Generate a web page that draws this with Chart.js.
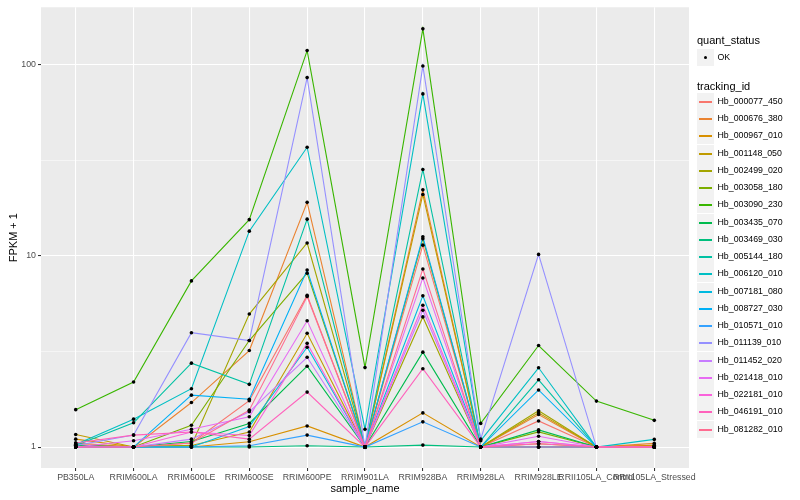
<!DOCTYPE html>
<html>
<head>
<meta charset="utf-8">
<script src="https://cdn.jsdelivr.net/npm/chart.js@4"></script>
<style>
  html, body { margin: 0; padding: 0; background: #ffffff; }
  #wrap { position: relative; width: 800px; height: 500px; overflow: hidden; font-family: "Liberation Sans", Arial, sans-serif; }
  #c { position: absolute; left: 0; top: 0; }
  .lg { position: absolute; white-space: nowrap; color: #000; }
  .ttl { font-size: 11px; line-height: 14px; }
  .key { position: absolute; width: 17px; height: 17px; background: #F2F2F2; }
  .key .ln { position: absolute; left: 2px; right: 2px; top: 8px; height: 1.5px; }
  .key .pt { position: absolute; left: 6.8px; top: 6.8px; width: 3.6px; height: 3.6px; border-radius: 50%; background: #000; }
  .lab { position: absolute; font-size: 8.8px; line-height: 17px; color: #000; }
</style>
</head>
<body>
<div id="wrap">
  <canvas id="c" width="800" height="500"></canvas>
  <div id="legend"></div>
</div>
<script>
const categories = ["PB350LA", "RRIM600LA", "RRIM600LE", "RRIM600SE", "RRIM600PE", "RRIM901LA",
  "RRIM928BA", "RRIM928LA", "RRIM928LE", "RRII105LA_Control", "RRII105LA_Stressed"];

const trackingIds = ["Hb_000077_450", "Hb_000676_380", "Hb_000967_010", "Hb_001148_050", "Hb_002499_020",
  "Hb_003058_180", "Hb_003090_230", "Hb_003435_070", "Hb_003469_030", "Hb_005144_180",
  "Hb_006120_010", "Hb_007181_080", "Hb_008727_030", "Hb_010571_010", "Hb_011139_010",
  "Hb_011452_020", "Hb_021418_010", "Hb_022181_010", "Hb_046191_010", "Hb_081282_010"];

const seriesColors = ["#F8766D", "#EA8331", "#D89000", "#C09B00", "#A3A500", "#7CAE00", "#39B600",
  "#00BB4E", "#00BF7D", "#00C1A3", "#00BFC4", "#00BAE0", "#00B0F6", "#35A2FF", "#9590FF",
  "#C77CFF", "#E76BF3", "#FA62DB", "#FF62BC", "#FF6C91"];

// FPKM + 1 values, one array per tracking_id, in category order
const hb_000077_450 = [1.03, 1.00, 1.05, 1.75, 6.23, 1.00, 11.4, 1.00, 1.37, 1.00, 1.02];
const hb_000676_380 = [1.05, 1.00, 1.71, 3.20, 19.1, 1.00, 22.2, 1.00, 1.48, 1.00, 1.045];
const hb_000967_010 = [1.10, 1.00, 1.00, 1.066, 1.29, 1.00, 1.51, 1.00, 1.04, 1.00, 1.02];
const hb_001148_050 = [1.164, 1.00, 1.02, 1.20, 3.94, 1.00, 21.0, 1.00, 1.51, 1.00, 1.00];
const hb_002499_020 = [1.00, 1.00, 1.02, 4.97, 11.7, 1.00, 4.80, 1.00, 1.55, 1.00, 1.00];
const hb_003058_180 = [1.00, 1.00, 1.30, 3.61, 8.13, 1.00, 12.3, 1.00, 1.20, 1.00, 1.00];
const hb_003090_230 = [1.57, 2.19, 7.41, 15.5, 119, 2.61, 154.6, 1.33, 3.40, 1.74, 1.38];
const hb_003435_070 = [1.02, 1.00, 1.07, 1.33, 2.65, 1.00, 3.14, 1.00, 1.23, 1.00, 1.00];
const hb_003469_030 = [1.00, 1.00, 1.00, 1.00, 1.016, 1.00, 1.024, 1.00, 1.00, 1.00, 1.00];
const hb_005144_180 = [1.02, 1.34, 2.75, 2.13, 15.6, 1.00, 28.4, 1.00, 2.25, 1.00, 1.00];
const hb_006120_010 = [1.03, 1.40, 2.02, 13.5, 37.1, 1.24, 70.6, 1.08, 2.60, 1.00, 1.097];
const hb_007181_080 = [1.00, 1.00, 1.00, 1.28, 3.33, 1.00, 6.19, 1.00, 1.00, 1.00, 1.00];
const hb_008727_030 = [1.00, 1.00, 1.87, 1.78, 8.44, 1.00, 12.6, 1.00, 1.99, 1.00, 1.00];
const hb_010571_010 = [1.00, 1.00, 1.00, 1.016, 1.155, 1.00, 1.355, 1.00, 1.00, 1.00, 1.00];
const hb_011139_010 = [1.02, 1.155, 3.97, 3.61, 85.9, 1.00, 98.8, 1.10, 10.2, 1.00, 1.00];
const hb_011452_020 = [1.00, 1.00, 1.10, 1.53, 2.95, 1.00, 5.20, 1.00, 1.07, 1.00, 1.00];
const hb_021418_010 = [1.00, 1.08, 1.24, 1.44, 4.58, 1.00, 7.68, 1.00, 1.14, 1.00, 1.00];
const hb_022181_010 = [1.00, 1.00, 1.20, 1.15, 3.49, 1.00, 5.53, 1.00, 1.07, 1.00, 1.00];
const hb_046191_010 = [1.05, 1.155, 1.20, 1.10, 1.94, 1.00, 2.57, 1.00, 1.04, 1.00, 1.00];
const hb_081282_010 = [1.00, 1.00, 1.05, 1.56, 6.14, 1.00, 8.55, 1.00, 1.00, 1.00, 1.00];

const seriesValues = [hb_000077_450, hb_000676_380, hb_000967_010, hb_001148_050, hb_002499_020,
  hb_003058_180, hb_003090_230, hb_003435_070, hb_003469_030, hb_005144_180,
  hb_006120_010, hb_007181_080, hb_008727_030, hb_010571_010, hb_011139_010,
  hb_011452_020, hb_021418_010, hb_022181_010, hb_046191_010, hb_081282_010];

const yMajorTicks = [1, 10, 100];
const yMinorTicks = [3.1623, 31.623];
const quantStatus = ["OK"];

// ---- build datasets ----
const datasets = seriesValues.map((vals, i) => ({
  label: trackingIds[i],
  data: vals.map((v, k) => ({ x: k, y: v })),
  borderColor: seriesColors[i],
  backgroundColor: seriesColors[i],
  borderWidth: 1.1,
  pointRadius: 0,
  pointHoverRadius: 0,
  tension: 0,
  fill: false,
  order: seriesValues.length - i
}));
const allPoints = [];
seriesValues.forEach(vals => vals.forEach((v, k) => allPoints.push({ x: k, y: v })));
datasets.push({
  label: "quant_status: OK",
  type: "scatter",
  data: allPoints,
  showLine: false,
  pointRadius: 1.8,
  pointHoverRadius: 1.8,
  pointBorderWidth: 0,
  backgroundColor: "#000000",
  borderColor: "#000000",
  order: 0
});

const panelBg = {
  id: "panelBg",
  beforeDraw(chart) {
    const a = chart.chartArea, ctx = chart.ctx;
    ctx.save();
    ctx.fillStyle = "#EBEBEB";
    ctx.fillRect(a.left, a.top, a.right - a.left, a.bottom - a.top);
    ctx.restore();
  }
};

const FONT = "'Liberation Sans', Arial, Helvetica, sans-serif";

new Chart(document.getElementById("c"), {
  type: "line",
  data: { datasets },
  plugins: [panelBg],
  options: {
    responsive: false,
    animation: false,
    events: [],
    layout: { padding: { left: 0, top: 3, right: 111, bottom: 0 } },
    plugins: { legend: { display: false }, tooltip: { enabled: false } },
    scales: {
      x: {
        type: "linear",
        min: -0.6,
        max: 10.6,
        afterBuildTicks(scale) {
          scale.ticks = categories.map((c, i) => ({ value: i }));
        },
        afterFit(scale) { scale.height = 32; },
        ticks: {
          autoSkip: false,
          maxRotation: 0,
          minRotation: 0,
          padding: 1,
          color: "#4D4D4D",
          font: { family: FONT, size: 8.8 },
          callback: (v) => categories[v]
        },
        grid: {
          color: "#FFFFFF",
          lineWidth: 1.07,
          drawTicks: true,
          tickLength: 3,
          tickColor: "#333333",
          tickWidth: 1.07
        },
        border: { display: false },
        title: {
          display: true,
          text: "sample_name",
          color: "#000000",
          font: { family: FONT, size: 11 },
          padding: { top: 0, bottom: 4 }
        }
      },
      y: {
        type: "logarithmic",
        min: 0.777,
        max: 200.5,
        afterBuildTicks(scale) {
          const t = yMajorTicks.map(v => ({ value: v, major: true }))
            .concat(yMinorTicks.map(v => ({ value: v, major: false })));
          t.sort((a, b) => a.value - b.value);
          scale.ticks = t;
        },
        afterFit(scale) { scale.width = 41; },
        ticks: {
          padding: 2,
          color: "#4D4D4D",
          font: { family: FONT, size: 8.8 },
          callback: (v) => yMajorTicks.includes(v) ? String(v) : ""
        },
        grid: {
          color: "#FFFFFF",
          lineWidth: (ctx) => (ctx.tick && yMajorTicks.includes(ctx.tick.value)) ? 1.07 : 0.53,
          drawTicks: true,
          tickLength: 3,
          tickColor: (ctx) => (ctx.tick && yMajorTicks.includes(ctx.tick.value)) ? "#333333" : "rgba(0,0,0,0)",
          tickWidth: 1.07
        },
        border: { display: false },
        title: {
          display: true,
          text: "FPKM + 1",
          color: "#000000",
          font: { family: FONT, size: 11 },
          padding: { top: 7, bottom: 0 }
        }
      }
    }
  }
});

// ---- ggplot-style legend (HTML text) ----
const lg = document.getElementById("legend");
function add(html) { lg.insertAdjacentHTML("beforeend", html); }
add(`<div class="lg ttl" style="left:697px; top:33px;">quant_status</div>`);
quantStatus.forEach((q, i) => {
  const top = Math.round(57.3 + i * 17.25 - 8.5);
  add(`<div class="key" style="left:697px; top:${top}px;"><div class="pt"></div></div>`);
  add(`<div class="lab" style="left:717.5px; top:${top}px;">${q}</div>`);
});
add(`<div class="lg ttl" style="left:697px; top:79px;">tracking_id</div>`);
trackingIds.forEach((id, i) => {
  const top = Math.round(101.3 + i * 17.25 - 8.5);
  add(`<div class="key" style="left:697px; top:${top}px;"><div class="ln" style="background:${seriesColors[i]};"></div></div>`);
  add(`<div class="lab" style="left:717.5px; top:${top}px;">${id}</div>`);
});
</script>
</body>
</html>
